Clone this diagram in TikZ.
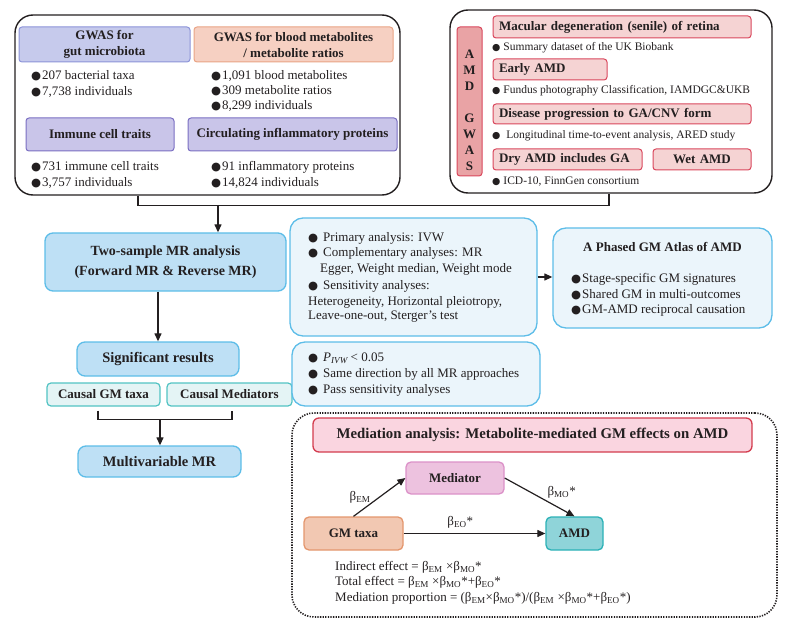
\documentclass[tikz,border=0pt]{standalone}
\usepackage{fontspec}
\setmainfont{Liberation Serif}
\newfontfamily\symfont{DejaVu Sans}
\usetikzlibrary{arrows.meta}

\definecolor{gutfill}{HTML}{C6CAEC}
\definecolor{gutline}{HTML}{8C93D8}
\definecolor{metafill}{HTML}{F6D0C2}
\definecolor{metaline}{HTML}{E9A485}
\definecolor{immfill}{HTML}{C9C5E9}
\definecolor{immline}{HTML}{7A6EC2}
\definecolor{amdfill}{HTML}{F5D3D3}
\definecolor{amdside}{HTML}{E9A3A5}
\definecolor{amdline}{HTML}{D9475C}
\definecolor{mrfill}{HTML}{BEE0F5}
\definecolor{mrline}{HTML}{5DBDE8}
\definecolor{notefill}{HTML}{EBF5FB}
\definecolor{causfill}{HTML}{E4F4F5}
\definecolor{causline}{HTML}{52C3C3}
\definecolor{medfill}{HTML}{FAD5E0}
\definecolor{medline}{HTML}{D33C4E}
\definecolor{mediatorfill}{HTML}{EDC2DF}
\definecolor{mediatorline}{HTML}{DB91C8}
\definecolor{gmfill}{HTML}{F2C8B2}
\definecolor{gmline}{HTML}{E4966D}
\definecolor{amdoutfill}{HTML}{8FD4D9}
\definecolor{amdoutline}{HTML}{2BB1B6}
\definecolor{ink}{HTML}{231F20}

\newcommand{\bul}{{\symfont\fontsize{11.5}{10}\selectfont ●}\hspace{1pt}}
\newcommand{\mbul}{{\symfont\fontsize{11.5}{10}\selectfont ●}\hspace{5pt}}
\newcommand{\sbul}{{\symfont\fontsize{9.5}{10}\selectfont ●}\hspace{3pt}}

\begin{document}
\begin{tikzpicture}[x=1pt, y=-1pt, text=ink,
    frame/.style={draw=ink, line width=1.4pt, rounded corners=18pt},
    dotframe/.style={draw=ink, line width=1.6pt, dash pattern=on 1.3pt off 1.3pt, rounded corners=22pt},
    hd/.style={draw, line width=1pt, rounded corners=3pt, align=center, inner sep=0pt,
      font=\fontsize{13}{16}\selectfont\bfseries},
    amdhd/.style={hd, fill=amdfill, draw=amdline, align=left, inner xsep=6pt},
    mr/.style={hd, fill=mrfill, draw=mrline, line width=1.3pt, rounded corners=8pt,
      font=\fontsize{14.5}{20}\selectfont\bfseries},
    caus/.style={hd, fill=causfill, draw=causline, line width=1.2pt, rounded corners=4pt},
    note/.style={draw=mrline, fill=notefill, line width=1.3pt, rounded corners=13pt},
    med/.style={hd, line width=1.3pt, rounded corners=5pt},
    txt/.style={font=\fontsize{13}{16}\selectfont, anchor=west, inner sep=0pt},
    stxt/.style={font=\fontsize{11.5}{14}\selectfont, anchor=west, inner sep=0pt},
    line/.style={draw=ink, line width=1.2pt},
    arr/.style={line, -{Triangle[length=8pt,width=7pt]}}]

  \useasboundingbox (0,0) rectangle (788,623);

  \node[frame, minimum width=385pt, minimum height=180pt] (gwasL) at (207.5,105) {};
  \node[frame, minimum width=322pt, minimum height=183pt] (gwasR) at (611,101.5) {};

  \node[hd, fill=gutfill, draw=gutline, minimum width=171pt, minimum height=35pt] (gut) at (104.5,44.5)
    {GWAS for\\gut microbiota};
  \node[hd, fill=metafill, draw=metaline, minimum width=199pt, minimum height=35pt] (meta) at (293.5,44.5)
    {GWAS for blood metabolites\\/ metabolite ratios};
  \node[hd, fill=immfill, draw=immline, minimum width=148pt, minimum height=33pt] (imm) at (100,134.5)
    {Immune cell traits};
  \node[hd, fill=immfill, draw=immline, minimum width=209pt, minimum height=33pt] (infl) at (292.5,134.5)
    {Circulating inflammatory proteins};

  \foreach \x/\y/\text [count=\i] in {%
    31/76/{207 bacterial taxa},
    31/92/{7,738 individuals},
    211/76/{1,091 blood metabolites},
    211/91/{309 metabolite ratios},
    211/106/{8,299 individuals},
    31/167/{731 immune cell traits},
    31/183/{3,757 individuals},
    211/167/{91 inflammatory proteins},
    211/183/{14,824 individuals}}
  {
    \node[txt] (gl\i) at (\x,\y) {\bul\text};
  }

  \node[hd, fill=amdside, draw=amdline, minimum width=25pt, minimum height=149pt] (amdgwas) at (469.5,101.5) {};
  \node[hd, draw=none] (amdgwastext) at (469.5,110) {A\\M\\D\\[16pt]G\\W\\A\\S};
  \node[amdhd, text width=246pt, minimum height=22pt] (mac) at (622,27) {Macular degeneration (senile) of retina};
  \node[amdhd, text width=102pt, minimum height=21pt] (early) at (550,69.5) {Early AMD};
  \node[amdhd, text width=246pt, minimum height=20pt] (prog) at (622,114) {Disease progression to GA/CNV form};
  \node[amdhd, text width=137pt, minimum height=21pt] (dry) at (567.5,159.5) {Dry AMD includes GA};
  \node[amdhd, text width=86pt, align=center, minimum height=21pt] (wet) at (702,159.5) {Wet AMD};

  \foreach \y/\text [count=\i] in {%
    48/{Summary dataset of the UK Biobank},
    91/{Fundus photography Classification, IAMDGC\&UKB},
    136/{\ Longitudinal time-to-event analysis, ARED study},
    182/{ICD-10, FinnGen consortium}}
  {
    \node[stxt] (gr\i) at (492,\y) {\sbul\text};
  }

  \node[mr, minimum width=241pt, minimum height=58pt, font=\fontsize{14}{20}\selectfont\bfseries] (twoMR) at (165.5,262)
    {Two-sample MR analysis\\(Forward MR \& Reverse MR)};
  \node[mr, minimum width=162pt, minimum height=34pt] (sig) at (158,359) {Significant results};
  \node[caus, minimum width=113pt, minimum height=23pt] (cgm) at (103.5,394.5) {Causal GM taxa};
  \node[caus, minimum width=125pt, minimum height=23pt] (cmed) at (229.5,394.5) {Causal Mediators};
  \node[mr, minimum width=163pt, minimum height=31pt] (mvmr) at (159.5,461.5) {Multivariable MR};

  \draw[line] ([xshift=-69.5pt]gwasL.south) -- ++(0,10) -| ([xshift=-2pt]gwasR.south);
  \coordinate (jn) at (218,205);
  \draw[arr] (jn) -- (jn |- twoMR.north);
  \draw[arr] (twoMR.south -| sig.north) -- (sig.north);
  \draw[line] ([xshift=-5.5pt,yshift=-4pt]cgm.south) -- ++(0,9) -| ([xshift=2.5pt,yshift=-4pt]cmed.south);
  \coordinate (jn2) at (160,419);
  \draw[arr] (jn2) -- (jn2 |- mvmr.north);

  \node[note, minimum width=247pt, minimum height=118pt] (methods) at (413.5,277) {};
  \node[note, minimum width=219pt, minimum height=100pt] (atlas) at (662.5,278) {};
  \node[note, minimum width=248pt, minimum height=64pt] (crit) at (416,374) {};
  \draw[arr] (methods.east) -- (methods.east -| atlas.west);

  \foreach \x/\y/\text [count=\i] in {%
    308/238/{\mbul Primary analysis: IVW},
    308/253/{\mbul Complementary analyses: MR},
    320/269/{Egger, Weight median, Weight mode},
    308/286/{\mbul Sensitivity analyses:},
    308/302/{Heterogeneity, Horizontal pleiotropy,},
    308/317/{Leave-one-out, Sterger’s test},
    308/358/{\mbul\textit{P}\textsubscript{\textit{IVW}}\,< 0.05},
    308/374/{\mbul Same direction by all MR approaches},
    308/390/{\mbul Pass sensitivity analyses},
    571/279/{\bul Stage-specific GM signatures},
    571/295/{\bul Shared GM in multi-outcomes},
    571/310/{\bul GM-AMD reciprocal causation}}
  {
    \node[txt] (mt\i) at (\x,\y) {\text};
  }
  \node[font=\fontsize{13}{16}\selectfont\bfseries] (atlastitle) at (662.5,247) {A Phased GM Atlas of AMD};

  \node[dotframe, minimum width=485pt, minimum height=204pt] (medbox) at (534.5,515) {};
  \node[med, fill=medfill, draw=medline, rounded corners=6pt, minimum width=439pt, minimum height=34pt,
    font=\fontsize{14.8}{16}\selectfont\bfseries] (medtitle) at (532.5,435)
    {Mediation analysis: Metabolite-mediated GM effects on AMD};
  \node[med, fill=mediatorfill, draw=mediatorline, minimum width=98pt, minimum height=32pt] (mediator) at (455,478) {Mediator};
  \node[med, fill=gmfill, draw=gmline, minimum width=99pt, minimum height=33pt] (gmtaxa) at (353.5,533.5) {GM taxa};
  \node[med, fill=amdoutfill, draw=amdoutline, minimum width=57pt, minimum height=33pt] (amdout) at (574.5,533.5) {AMD};

  \draw[arr] (gmtaxa.north) -- (mediator.west)
    node[midway, left=5pt, font=\fontsize{13}{16}\selectfont] {β\textsubscript{EM}};
  \draw[arr] (mediator.east) -- (amdout.north)
    node[midway, right=4pt, yshift=5pt, font=\fontsize{13}{16}\selectfont] {β\textsubscript{MO}*};
  \draw[arr] (gmtaxa.east) -- (amdout.west)
    node[pos=0.4, above=1pt, font=\fontsize{13}{16}\selectfont] {β\textsubscript{EO}*};

  \foreach \y/\text [count=\i] in {%
    567/{Indirect effect = β\textsubscript{EM} ×β\textsubscript{MO}*},
    582/{Total effect = β\textsubscript{EM} ×β\textsubscript{MO}*+β\textsubscript{EO}*},
    598/{Mediation proportion = (β\textsubscript{EM}×β\textsubscript{MO}*)/(β\textsubscript{EM} ×β\textsubscript{MO}*+β\textsubscript{EO}*)}}
  {
    \node[txt] (fm\i) at (335,\y) {\text};
  }
\end{tikzpicture}
\end{document}
